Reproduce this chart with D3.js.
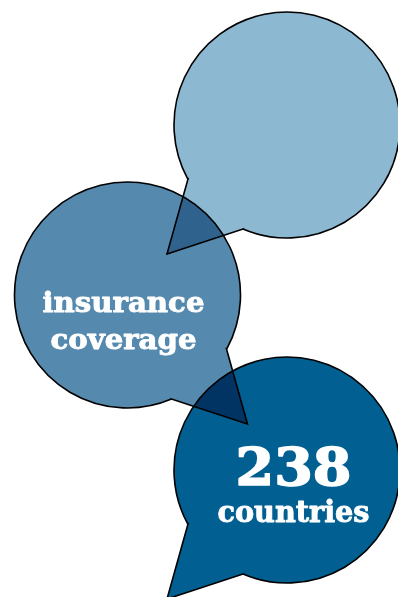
<!DOCTYPE html>
<html>
<head>
<meta charset="utf-8">
<script src="https://cdn.jsdelivr.net/npm/d3@7"></script>
<style>
  html, body { margin: 0; padding: 0; background: #fff; }
  svg { display: block; }
  .bubble { mix-blend-mode: multiply; }
</style>
</head>
<body>
<svg id="chart" width="398" height="597"></svg>
<script>
// ---- data ----
const bubbleNames = ["top", "middle", "bottom"];
const bigNumbers = ["", "", "238"];
const labelLines = [[], ["insurance", "coverage"], ["countries"]];
const bubbleColors = ["#8db8d2", "#5589ad", "#015f92"];

// ---- layout ----
const W = 398, H = 597;
const svg = d3.select("#chart");
const R = 113;
const x = d3.scaleOrdinal().domain(bubbleNames).range([287, 127.5, 287]);
const y = d3.scaleOrdinal().domain(bubbleNames).range([125, 295, 470]);
const mirror = d3.scaleOrdinal().domain(bubbleNames).range([1, -1, 1]);
// tail geometry relative to centre (for a tail pointing down-left)
const tailA = [-99, 54], tailTip = [-120, 129], tailB = [-44, 104];

function bubblePath(name) {
  const cx = x(name), cy = y(name), s = mirror(name);
  const A = [cx + s * tailA[0], cy + tailA[1]];
  const T = [cx + s * tailTip[0], cy + tailTip[1]];
  const B = [cx + s * tailB[0], cy + tailB[1]];
  const aA = Math.atan2(A[1] - cy, A[0] - cx);
  const aB = Math.atan2(B[1] - cy, B[0] - cx);
  const p = d3.path();
  p.moveTo(A[0], A[1]);
  p.lineTo(T[0], T[1]);
  p.lineTo(B[0], B[1]);
  p.arc(cx, cy, R, aB, aA, s === 1);
  p.closePath();
  return p.toString();
}

const gShapes = svg.append("g").style("isolation", "isolate");
gShapes.selectAll("path")
  .data(bubbleNames)
  .join("path")
  .attr("class", "bubble")
  .attr("d", bubblePath)
  .attr("fill", (d, i) => bubbleColors[i])
  .attr("stroke", "#000")
  .attr("stroke-width", 1.6)
  .attr("stroke-linejoin", "miter");

const font = "'DejaVu Serif', 'Liberation Serif', serif";
const gText = svg.append("g")
  .attr("fill", "#fff")
  .attr("stroke", "#fff")
  .attr("stroke-linejoin", "round")
  .attr("font-family", font)
  .attr("font-weight", "bold")
  .attr("text-anchor", "middle");

// middle bubble label
gText.append("text")
  .attr("x", 123.5).attr("y", 312)
  .attr("font-size", 27).attr("stroke-width", 0.9)
  .attr("textLength", 162).attr("lengthAdjust", "spacingAndGlyphs")
  .text(labelLines[1][0]);
gText.append("text")
  .attr("x", 123.5).attr("y", 349)
  .attr("font-size", 27).attr("stroke-width", 0.9)
  .attr("textLength", 146).attr("lengthAdjust", "spacingAndGlyphs")
  .text(labelLines[1][1]);

// bottom bubble
gText.append("text")
  .attr("x", 293.5).attr("y", 485)
  .attr("font-size", 52).attr("stroke-width", 1.6)
  .attr("textLength", 116).attr("lengthAdjust", "spacingAndGlyphs")
  .text(bigNumbers[2]);
gText.append("text")
  .attr("x", 293.5).attr("y", 522)
  .attr("font-size", 29).attr("stroke-width", 0.9)
  .attr("textLength", 152).attr("lengthAdjust", "spacingAndGlyphs")
  .text(labelLines[2][0]);
</script>
</body>
</html>
